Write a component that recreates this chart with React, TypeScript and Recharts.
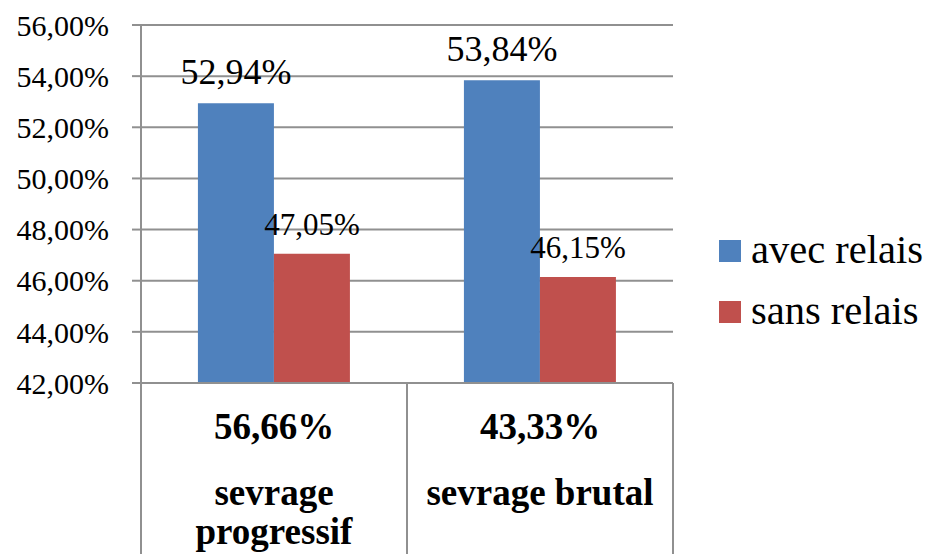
import React from "react";
import { BarChart, Bar, XAxis, YAxis, CartesianGrid, LabelList } from "recharts";

// Weaning method categories and their share of patients
const categories = ["sevrage progressif", "sevrage brutal"];
const categoryShares = [56.66, 43.33];

// Series values (percent)
const avecRelais = [52.94, 53.84];
const sansRelais = [47.05, 46.15];

// Y axis ticks (percent)
const yTicks = [42, 44, 46, 48, 50, 52, 54, 56];

const seriesNames = { avec: "avec relais", sans: "sans relais" };

const data = categories.map((c, i) => ({
  category: c,
  share: categoryShares[i],
  avec: avecRelais[i],
  sans: sansRelais[i],
}));

const FONT = "Liberation Serif, Times New Roman, serif";
const BLUE = "#4F81BD";
const RED = "#C0504D";
const GRID = "#909090";

const CHART_W = 934;
const CHART_H = 554;
const MARGIN = { top: 25, right: 261, left: 0, bottom: 0 };
const Y_AXIS_W = 141;
const X_AXIS_H = 171;
const PLOT_BOTTOM = CHART_H - MARGIN.bottom - X_AXIS_H;
const BAND = (CHART_W - MARGIN.left - MARGIN.right - Y_AXIS_W) / categories.length;

const CAT_FONT_SIZE = 37;
const CAT_LINE_H = 39;

const fmt = (v: number) => v.toFixed(2).replace(".", ",") + "%";

const boldStyle = { fontFamily: FONT, fontWeight: "bold" as const, fontSize: CAT_FONT_SIZE };

// Greedy word wrap measured with a canvas context
let measureCtx: CanvasRenderingContext2D | null = null;
const wrapWords = (text: string, maxWidth: number): string[] => {
  if (!measureCtx) measureCtx = document.createElement("canvas").getContext("2d");
  const ctx = measureCtx!;
  ctx.font = `bold ${CAT_FONT_SIZE}px ${FONT}`;
  const words = text.split(" ");
  const lines: string[] = [];
  let cur = "";
  for (const w of words) {
    const next = cur ? cur + " " + w : w;
    if (cur && ctx.measureText(next).width > maxWidth) {
      lines.push(cur);
      cur = w;
    } else {
      cur = next;
    }
  }
  if (cur) lines.push(cur);
  return lines;
};

const CategoryCell = (props: any) => {
  const { x, index, payload } = props;
  const row = data[index] ?? data.find((d) => d.category === payload.value);
  const half = BAND / 2;
  const last = index === categories.length - 1;
  const lines = wrapWords(String(payload.value), BAND - 20);
  return (
    <g>
      <line x1={x - half} x2={x - half} y1={PLOT_BOTTOM} y2={CHART_H} stroke={GRID} strokeWidth={2} />
      {last && (
        <line x1={x + half} x2={x + half} y1={PLOT_BOTTOM} y2={CHART_H} stroke={GRID} strokeWidth={2} />
      )}
      <text x={x} y={PLOT_BOTTOM + 56} textAnchor="middle" style={boldStyle} fill="#000">
        {fmt(row.share)}
      </text>
      <text x={x} y={PLOT_BOTTOM + 122} textAnchor="middle" style={boldStyle} fill="#000">
        {lines.map((ln, i) => (
          <tspan key={i} x={x} dy={i === 0 ? 0 : CAT_LINE_H}>
            {ln}
          </tspan>
        ))}
      </text>
    </g>
  );
};

const makeValueLabel = (size: number) => (props: any) => {
  const { x, y, width, value } = props;
  return (
    <text
      x={x + width / 2}
      y={y - 19}
      textAnchor="middle"
      style={{ fontFamily: FONT, fontSize: size }}
      fill="#000"
    >
      {fmt(value)}
    </text>
  );
};

// Legend drawn beside the plot
const LegendBox = () => {
  const items = [
    { name: seriesNames.avec, color: BLUE },
    { name: seriesNames.sans, color: RED },
  ];
  return (
    <svg
      width={219}
      height={110}
      style={{ position: "absolute", left: 715, top: 230, display: "block", overflow: "visible" }}
    >
      {items.map((it, i) => (
        <g key={it.name} transform={`translate(0, ${i * 61})`}>
          <rect x={4} y={10} width={22} height={22} fill={it.color} />
          <text x={36} y={33} style={{ fontFamily: FONT, fontSize: 40.5 }} fill="#000">
            {it.name}
          </text>
        </g>
      ))}
    </svg>
  );
};

export default function App() {
  return (
    <div style={{ position: "absolute", left: 0, top: 0, width: CHART_W, height: CHART_H, background: "#fff" }}>
      <BarChart
        width={CHART_W}
        height={CHART_H}
        data={data}
        margin={MARGIN}
        barCategoryGap="21.4%"
        barGap={0}
      >
        <CartesianGrid vertical={false} stroke={GRID} strokeWidth={2} />
        <XAxis
          dataKey="category"
          height={X_AXIS_H}
          axisLine={{ stroke: GRID, strokeWidth: 2 }}
          tickLine={false}
          tick={<CategoryCell />}
          interval={0}
        />
        <YAxis
          width={Y_AXIS_W}
          domain={[42, 56]}
          ticks={yTicks}
          interval={0}
          allowDataOverflow
          tickFormatter={fmt}
          axisLine={{ stroke: GRID, strokeWidth: 2 }}
          tickLine={{ stroke: GRID, strokeWidth: 2 }}
          tickSize={9}
          tickMargin={23}
          tick={{ style: { fontFamily: FONT, fontSize: 30 }, fill: "#000" }}
        />
        <Bar dataKey="avec" name={seriesNames.avec} fill={BLUE} isAnimationActive={false}>
          <LabelList dataKey="avec" content={makeValueLabel(36)} />
        </Bar>
        <Bar dataKey="sans" name={seriesNames.sans} fill={RED} isAnimationActive={false}>
          <LabelList dataKey="sans" content={makeValueLabel(31)} />
        </Bar>
      </BarChart>
      <LegendBox />
    </div>
  );
}
